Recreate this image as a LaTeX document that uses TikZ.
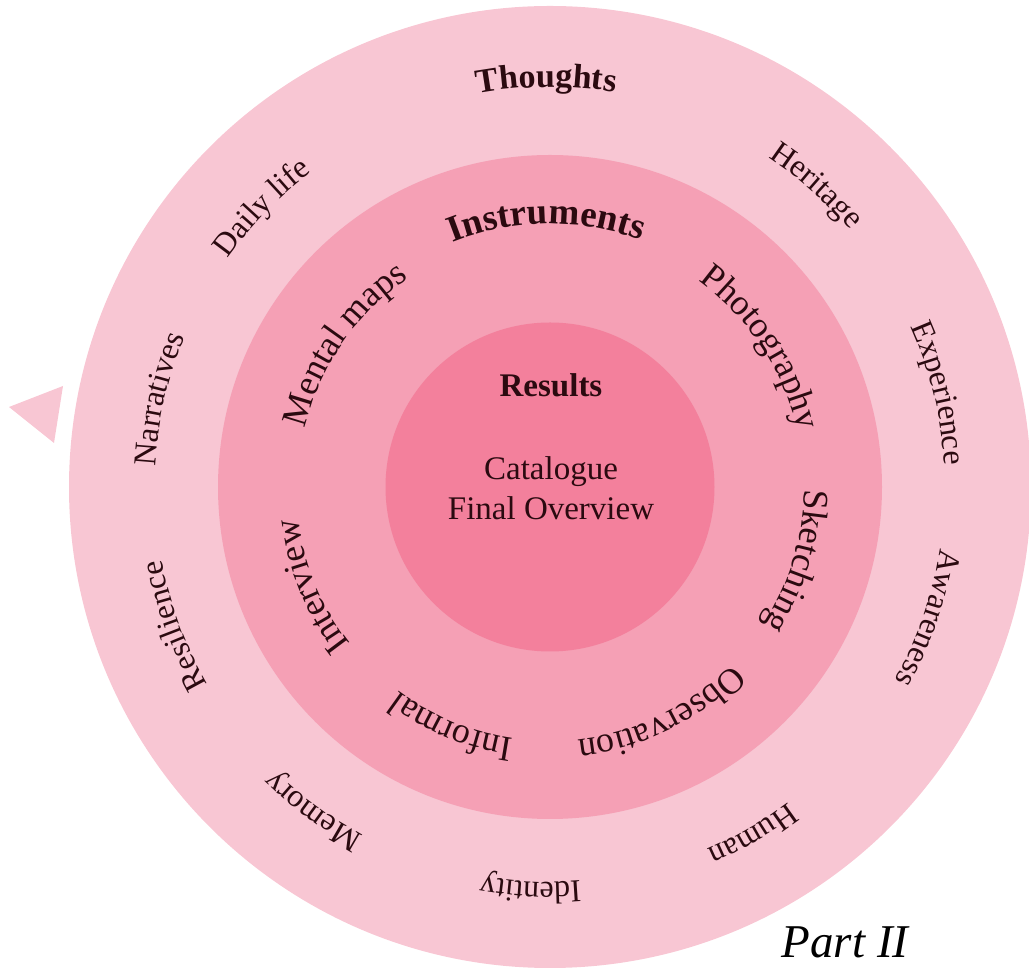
\documentclass[tikz,border=0pt]{standalone}
\usepackage{fontspec}
\setmainfont{Liberation Serif}
\usetikzlibrary{decorations.text,calc}
\definecolor{ringA}{HTML}{F8C6D3}
\definecolor{ringB}{HTML}{F5A0B5}
\definecolor{ringC}{HTML}{F3809C}
\definecolor{ink}{HTML}{2B0A10}
\newcommand\outerfont{\fontsize{32}{38}\selectfont}
\newcommand\midfont{\fontsize{36}{43}\selectfont}
\newcommand\headfont{\fontsize{34}{40}\selectfont\bfseries}
\newcommand\instfont{\fontsize{37}{44}\selectfont\bfseries}
% #1 centre angle, #2 baseline radius, #3 font, #4 text
\newcommand\ringlabel[4]{%
  \path[decorate,decoration={text along path,text align=center,text color=ink,text={|#3|#4}}]
    ($(c)+(#1+70:#2)$) arc[start angle=#1+70,end angle=#1-70,radius=#2];}
\begin{document}
\begin{tikzpicture}[x=1pt,y=1pt,
  ctext/.style={text=ink,inner sep=0pt,anchor=base}]
\useasboundingbox (0,0) rectangle (1029,969);
\coordinate (c) at (550,482);
% rings
\fill[ringA] (c) circle[radius=481pt];
\fill[ringB] (c) circle[radius=332pt];
\fill[ringC] (c) circle[radius=164.5pt];
% pointer triangle
\fill[ringA] (9,562) -- (63,583) -- (54,526) -- cycle;
% outer ring
\ringlabel{90.5}{400pt}{\headfont}{Thoughts}
\ringlabel{48.5}{395pt}{\outerfont}{Heritage}
\ringlabel{13.6}{395pt}{\outerfont}{Experience}
\ringlabel{-19.1}{395pt}{\outerfont}{Awareness}
\ringlabel{-59.7}{395pt}{\outerfont}{Human}
\ringlabel{-92.8}{395pt}{\outerfont}{Identity}
\ringlabel{-126.2}{395pt}{\outerfont}{Memory}
\ringlabel{-159.7}{395pt}{\outerfont}{Resilience}
\ringlabel{-192.7}{395pt}{\outerfont}{Narratives}
\ringlabel{-224.1}{395pt}{\outerfont}{Daily life}
% middle ring
\ringlabel{90.8}{263pt}{\instfont}{Instruments}
\ringlabel{33.4}{254pt}{\midfont}{Photography}
\ringlabel{-16.7}{254pt}{\midfont}{Sketching}
\ringlabel{-64}{254pt}{\midfont}{Observation}
\ringlabel{-112.4}{254pt}{\midfont}{Informal}
\ringlabel{-157.4}{254pt}{\midfont}{Interview}
\ringlabel{-214.7}{252pt}{\midfont}{Mental maps}
% centre
\node[ctext,font=\fontsize{33}{39}\selectfont\bfseries] (results) at (551,572) {Results};
\node[ctext,font=\fontsize{33}{40}\selectfont] (catalogue) at (551,489) {Catalogue};
\node[ctext,font=\fontsize{33}{40}\selectfont] (overview) at (551,449) {Final Overview};
% footer
\node[anchor=base,inner sep=0pt,text=black,font=\fontsize{47}{56}\selectfont\itshape] (part) at (845,11) {Part II};
\end{tikzpicture}
\end{document}
